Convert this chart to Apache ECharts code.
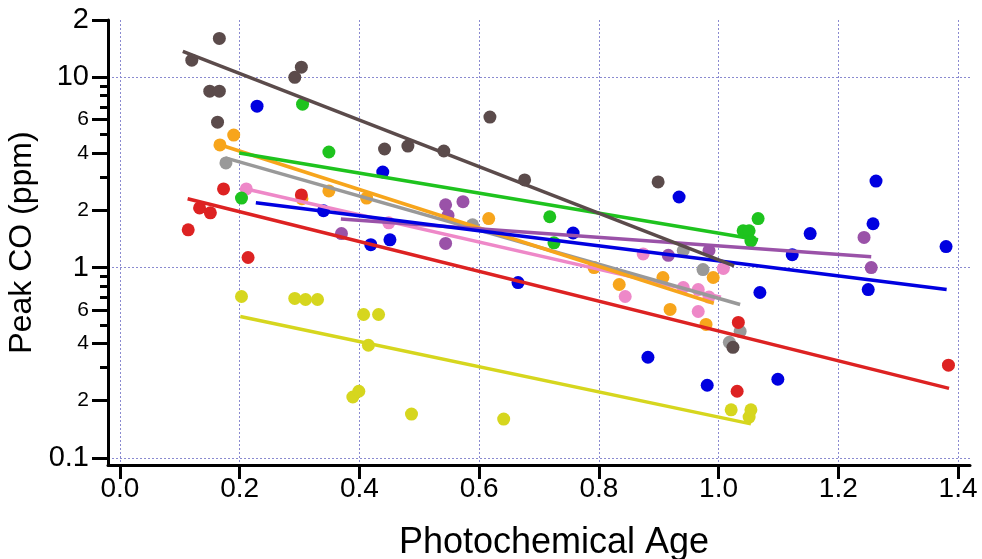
<!DOCTYPE html>
<html>
<head>
<meta charset="utf-8">
<script src="https://cdn.jsdelivr.net/npm/echarts@6/dist/echarts.min.js"></script>
<style>
  html, body { margin: 0; padding: 0; background: #fff; }
  #chart { width: 982px; height: 559px; }
</style>
</head>
<body>
<div id="chart"></div>
<script>
// ticks
var xTicks = [0, 0.2, 0.4, 0.6, 0.8, 1.0, 1.2, 1.4];
var yMajorTicks = [0.1, 0.2, 0.4, 0.6, 1, 2, 4, 6, 10, 20];
var yMinorTicks = [0.3, 0.5, 0.7, 0.8, 0.9, 3, 5, 7, 8, 9];

// points [photochemical age, peak CO]
var brownPts = [[0.120, 12.3], [0.166, 16.0], [0.150, 8.45], [0.166, 8.45], [0.163, 5.81], [0.292, 10.0], [0.303, 11.3], [0.442, 4.20], [0.481, 4.35], [0.541, 4.10], [0.618, 6.18], [0.676, 2.89], [0.899, 2.82], [1.024, 0.381]];
var greenPts = [[0.203, 2.32], [0.305, 7.22], [0.349, 4.05], [0.718, 1.85], [0.725, 1.35], [1.041, 1.56], [1.051, 1.56], [1.054, 1.38], [1.066, 1.81]];
var bluePts = [[0.229, 7.05], [0.340, 1.99], [0.419, 1.32], [0.451, 1.40], [0.439, 3.18], [0.665, 0.834], [0.757, 1.52], [0.882, 0.338], [0.934, 2.35], [0.981, 0.241], [1.069, 0.740], [1.099, 0.259], [1.123, 1.17], [1.153, 1.51], [1.250, 0.767], [1.258, 1.70], [1.263, 2.85], [1.380, 1.29]];
var purplePts = [[0.370, 1.51], [0.544, 2.14], [0.573, 2.22], [0.548, 1.88], [0.544, 1.34], [0.916, 1.16], [0.984, 1.23], [1.243, 1.44], [1.255, 1.0]];
var redPts = [[0.114, 1.58], [0.133, 2.06], [0.151, 1.94], [0.173, 2.59], [0.214, 1.13], [0.303, 2.41], [1.031, 0.224], [1.033, 0.515], [1.384, 0.307]];
var orangePts = [[0.167, 4.41], [0.190, 4.97], [0.304, 2.30], [0.349, 2.53], [0.412, 2.32], [0.616, 1.81], [0.792, 1.0], [0.834, 0.815], [0.907, 0.887], [0.919, 0.603], [0.979, 0.503], [0.991, 0.887]];
var grayPts = [[0.177, 3.55], [0.589, 1.68], [0.941, 1.23], [0.974, 0.977], [1.018, 0.405], [1.036, 0.462]];
var pinkPts = [[0.211, 2.59], [0.449, 1.72], [0.844, 0.705], [0.874, 1.18], [0.941, 0.786], [0.966, 0.767], [0.966, 0.588], [0.984, 0.70], [1.008, 0.99]];
var yellowPts = [[0.203, 0.705], [0.292, 0.689], [0.310, 0.68], [0.330, 0.68], [0.389, 0.209], [0.399, 0.224], [0.407, 0.567], [0.415, 0.391], [0.432, 0.567], [0.487, 0.170], [0.641, 0.160], [1.021, 0.179], [1.051, 0.164], [1.054, 0.179]];

// fit lines (end points)
var brownFit = [[0.105, 13.7], [1.026, 1.02]];
var greenFit = [[0.199, 4.0], [1.066, 1.40]];
var grayFit = [[0.176, 3.77], [1.036, 0.64]];
var orangeFit = [[0.163, 4.46], [0.992, 0.65]];
var pinkFit = [[0.211, 2.59], [1.004, 0.70]];
var redFit = [[0.113, 2.30], [1.385, 0.232]];
var blueFit = [[0.227, 2.19], [1.381, 0.767]];
var purpleFit = [[0.369, 1.80], [1.255, 1.14]];
var yellowFit = [[0.201, 0.554], [1.054, 0.151]];

var FONT = "'Liberation Sans', Arial, sans-serif";

var groups = [
    ['yellow', yellowPts, yellowFit, '#d6d61e'],
    ['pink', pinkPts, pinkFit, '#ee88c8'],
    ['gray', grayPts, grayFit, '#999999'],
    ['orange', orangePts, orangeFit, '#f7a51c'],
    ['red', redPts, redFit, '#dd2222'],
    ['purple', purplePts, purpleFit, '#9a52a8'],
    ['blue', bluePts, blueFit, '#0000e0'],
    ['green', greenPts, greenFit, '#1ec31e'],
    ['brown', brownPts, brownFit, '#5b4b4b']
];

var series = [];
groups.forEach(function (g) {
    series.push({
        name: g[0],
        type: 'scatter',
        symbolSize: 13,
        itemStyle: { color: g[3], opacity: 1 },
        data: g[1],
        z: 3
    });
});
groups.forEach(function (g) {
    series.push({
        name: g[0] + ' fit',
        type: 'line',
        showSymbol: false,
        symbol: 'none',
        lineStyle: { color: g[3], width: 3.5 },
        data: g[2],
        z: 4
    });
});

function yLabel(v) {
    var p = Math.floor(Math.log10(v) + 1e-9);
    var d = Math.round(v / Math.pow(10, p));
    if (d === 1) {
        return '{big|' + (v < 1 ? v.toFixed(1) : String(Math.round(v))) + '}';
    }
    if (v > 15) return '{big|' + d + '}';
    return '{small|' + d + '}';
}

var yMin = 0.0918, yMax = 20;
var gridLine = { color: '#8a8ad0', width: 1, type: [2, 2] };

var option = {
    animation: false,
    grid: { left: 108, right: 12, top: 20, bottom: 94, outerBoundsMode: 'none' },
    xAxis: {
        type: 'value',
        min: -0.02,
        max: 1.42,
        name: 'Photochemical Age',
        nameLocation: 'middle',
        nameGap: 60,
        nameTextStyle: { fontFamily: FONT, fontSize: 36, color: '#000', padding: [0, 0, 0, 30] },
        axisLine: { show: true, onZero: false, lineStyle: { color: '#000', width: 3 } },
        axisTick: { show: true, customValues: xTicks, length: 14, lineStyle: { color: '#000', width: 3 } },
        axisLabel: {
            customValues: xTicks,
            margin: 10,
            fontFamily: FONT, fontSize: 28, color: '#000',
            formatter: function (v) { return v.toFixed(1); }
        },
        splitLine: { show: true, lineStyle: gridLine }
    },
    yAxis: [
        {
            type: 'log',
            position: 'left',
            min: yMin,
            max: yMax,
            name: 'Peak CO (ppm)',
            nameLocation: 'middle',
            nameGap: 43,
            nameRotate: 90,
            nameTextStyle: { fontFamily: FONT, fontSize: 32, color: '#000' },
            axisLine: { show: true, onZero: false, lineStyle: { color: '#000', width: 3 } },
            axisTick: { show: true, customValues: yMajorTicks, length: 16, lineStyle: { color: '#000', width: 3 } },
            axisLabel: {
                customValues: yMajorTicks,
                margin: 19,
                color: '#000',
                formatter: yLabel,
                rich: {
                    big: { fontFamily: FONT, fontSize: 29, color: '#000' },
                    small: { fontFamily: FONT, fontSize: 21, color: '#000' }
                }
            },
            splitLine: { show: false }
        },
        {
            type: 'log',
            position: 'left',
            min: yMin,
            max: yMax,
            axisLine: { show: false, onZero: false },
            axisTick: { show: true, customValues: yMinorTicks, length: 8, lineStyle: { color: '#000', width: 3 } },
            axisLabel: { show: false },
            splitLine: { show: false }
        },
        {
            type: 'log',
            position: 'left',
            min: yMin,
            max: yMax,
            axisLine: { show: false, onZero: false },
            axisTick: { show: false },
            axisLabel: { show: false },
            splitLine: { show: true, showMinLine: false, showMaxLine: false, lineStyle: gridLine }
        }
    ],
    series: series
};

var myChart = echarts.init(document.getElementById('chart'));
myChart.setOption(option);
</script>
</body>
</html>
